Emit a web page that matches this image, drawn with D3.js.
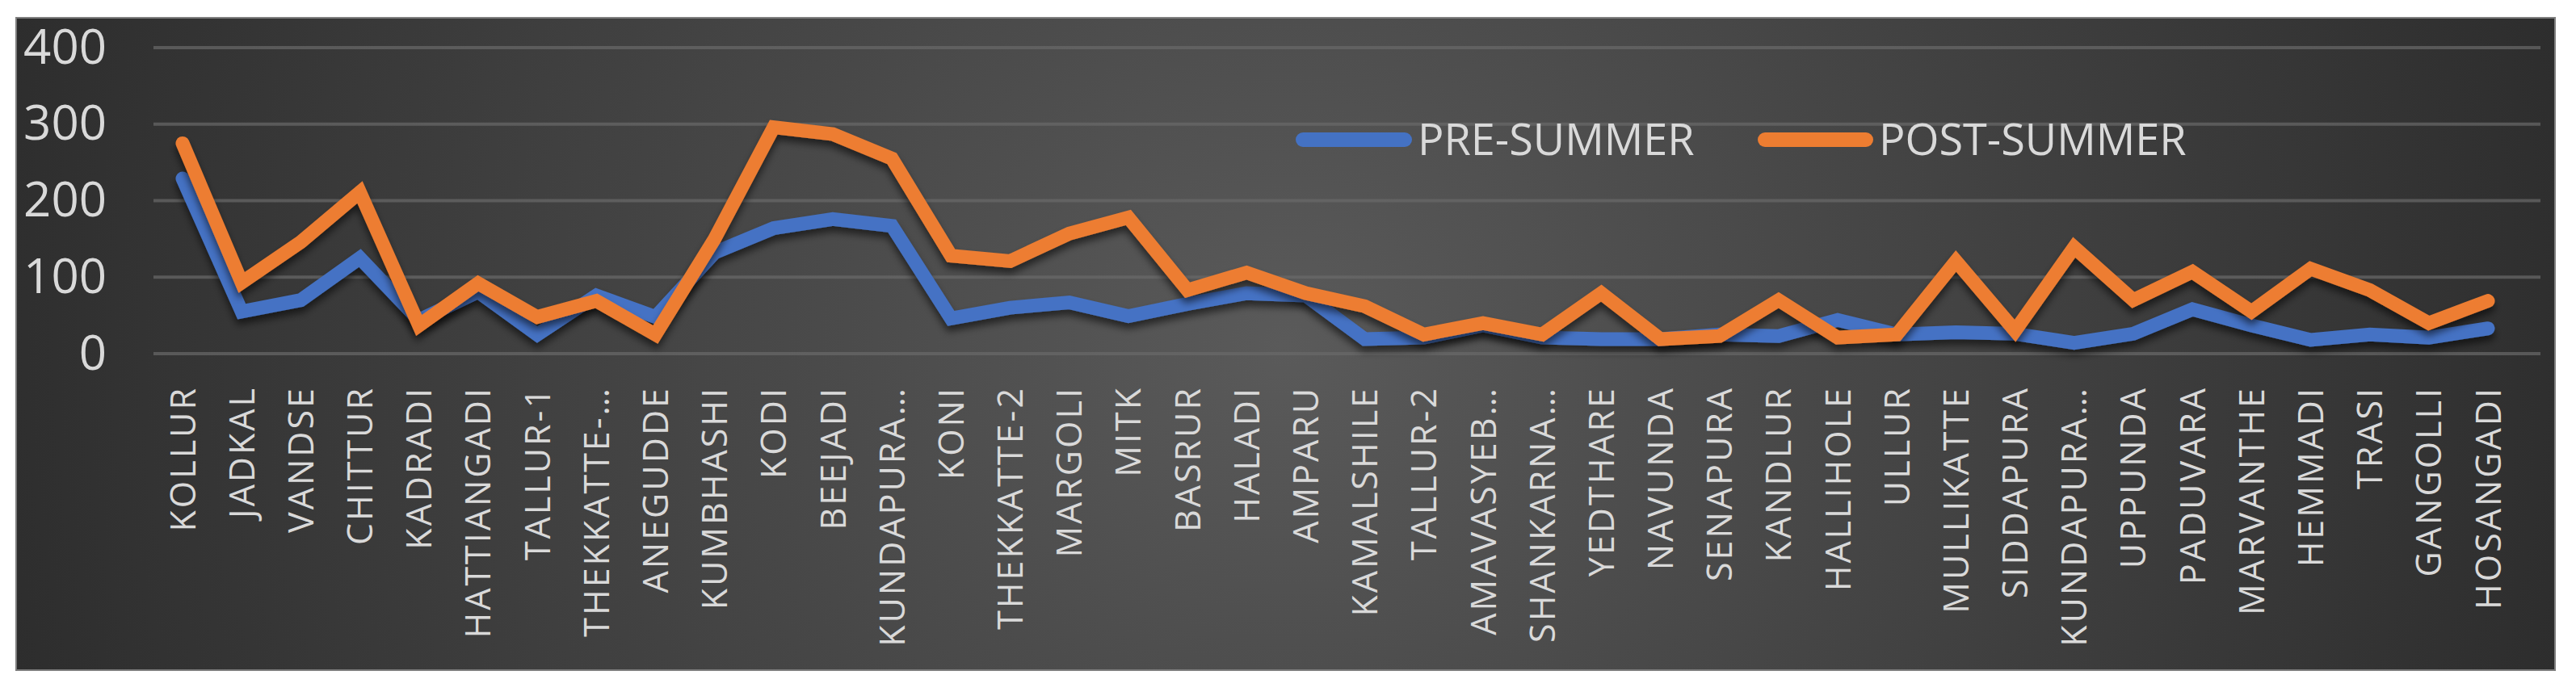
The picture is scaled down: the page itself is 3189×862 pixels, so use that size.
<!DOCTYPE html>
<html><head><meta charset="utf-8">
<script src="https://cdn.jsdelivr.net/npm/d3@7"></script>
<style>body{margin:0;background:#fff}svg{display:block}</style>
</head><body>
<script>
const categories = ["KOLLUR","JADKAL","VANDSE","CHITTUR","KADRADI","HATTIANGADI","TALLUR-1","THEKKATTE-…","ANEGUDDE","KUMBHASHI","KODI","BEEJADI","KUNDAPURA…","KONI","THEKKATTE-2","MARGOLI","MITK","BASRUR","HALADI","AMPARU","KAMALSHILE","TALLUR-2","AMAVASYEB…","SHANKARNA…","YEDTHARE","NAVUNDA","SENAPURA","KANDLUR","HALLIHOLE","ULLUR","MULLIKATTE","SIDDAPURA","KUNDAPURA…","UPPUNDA","PADUVARA","MARVANTHE","HEMMADI","TRASI","GANGOLLI","HOSANGADI"];
const preSummer = [229,55,70,125,44,81,25,76,48,132,164,176,167,46,60,67,49,65,79,76,19,21,37,21,19,19,25,23,44,25,28,26,14,26,58,37,18,25,21,33];
const postSummer = [275,93,146,211,37,92,48,69,25,150,296,287,255,128,121,157,178,83,106,79,62,25,40,25,79,19,23,70,21,25,121,30,139,70,107,55,111,83,40,69];
const yTicks = [0,100,200,300,400];
const seriesNames = ["PRE-SUMMER","POST-SUMMER"];
const seriesColors = ["#4472C4","#ED7D31"];

const W=3189,H=862;
const svg=d3.select("body").append("svg").attr("width",W).attr("height",H);
const defs=svg.append("defs");
const rg=defs.append("radialGradient").attr("id","bg").attr("cx","50%").attr("cy","50%").attr("r","60%")
  .attr("gradientTransform","translate(0.5,0.5) scale(1,3.6) translate(-0.5,-0.5)");
rg.append("stop").attr("offset","0%").attr("stop-color","#5a5a5a");
rg.append("stop").attr("offset","100%").attr("stop-color","#262626");
const f=defs.append("filter").attr("id","sh").attr("x","-5%").attr("y","-20%").attr("width","110%").attr("height","140%");
f.append("feDropShadow").attr("dx",0).attr("dy",7).attr("stdDeviation",5).attr("flood-color","#000").attr("flood-opacity",0.55);

svg.append("rect").attr("x",20).attr("y",22).attr("width",3143).attr("height",808).attr("fill","url(#bg)").attr("stroke","#7f7f7f").attr("stroke-width",2);

const idx=d3.range(categories.length);
const x=d3.scalePoint().domain(idx).range([226,3080]);
const y=d3.scaleLinear().domain([0,400]).range([438,59]);

svg.append("g").selectAll("line").data(yTicks).join("line")
  .attr("x1",190).attr("x2",3145).attr("y1",d=>y(d)).attr("y2",d=>y(d))
  .attr("stroke","#6a6a6a").attr("stroke-opacity",0.7).attr("stroke-width",4);

const ya=svg.append("g").attr("transform","translate(132,0)")
  .call(d3.axisLeft(y).tickValues(yTicks).tickSize(0).tickPadding(0));
ya.select(".domain").remove();
ya.selectAll("text").attr("fill","#d9d9d9").attr("font-family","'Liberation Sans Narrow','Open Sans',sans-serif")
  .attr("font-size",60);

const xa=svg.append("g").attr("transform","translate(0,478)")
  .call(d3.axisBottom(x).tickSize(0).tickPadding(0).tickFormat(i=>categories[i]));
xa.select(".domain").remove();
xa.selectAll("text").attr("fill","#d9d9d9").attr("font-family","'Open Sans',sans-serif").attr("font-size",43)
  .attr("letter-spacing",3)
  .attr("text-anchor","end").attr("dy","0.35em").attr("transform","rotate(-90)");

const line=d3.line().x((d,i)=>x(i)).y(d=>y(d));
[preSummer,postSummer].forEach((s,k)=>{
  svg.append("path").datum(s).attr("d",line).attr("fill","none").attr("stroke",seriesColors[k])
    .attr("stroke-width",17).attr("stroke-linejoin","miter").attr("stroke-linecap","round").attr("filter","url(#sh)");
});

const leg=[{x1:1604,x2:1748,tx:1755},{x1:2176,x2:2319,tx:2326}];
leg.forEach((l,k)=>{
  svg.append("line").attr("x1",l.x1+9).attr("x2",l.x2-9).attr("y1",173).attr("y2",173)
    .attr("stroke",seriesColors[k]).attr("stroke-width",18).attr("stroke-linecap","round");
  svg.append("text").attr("x",l.tx).attr("y",173).attr("dy","0.35em").text(seriesNames[k])
    .attr("fill","#d9d9d9").attr("font-family","'Liberation Sans Narrow','Open Sans',sans-serif").attr("font-size",54);
});
</script>
</body></html>
